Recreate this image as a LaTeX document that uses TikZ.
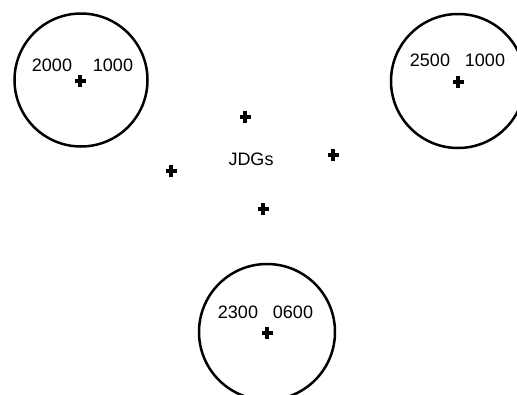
\documentclass[tikz,border=0pt]{standalone}
\usepackage{fontspec}
\setmainfont{Liberation Sans}
\begin{document}
\begin{tikzpicture}[x=1pt,y=-1pt,
  ring/.style={circle,draw=black,line width=2.5pt,minimum size=133pt,inner sep=0pt},
  lbl/.style={inner sep=0pt,font=\fontsize{18}{18}\selectfont},
  cross/.style={line width=3.2pt}]
\useasboundingbox (0,0) rectangle (517,394);
\newcommand{\xcross}[2]{\draw[cross] (#1-5.5,#2) -- (#1+5.5,#2) (#1,#2-6) -- (#1,#2+6);}
% circles
\node[ring] (c1) at (81,80) {};
\node[ring,minimum size=134pt] (c2) at (458,81) {};
\node[ring,minimum size=136pt] (c3) at (267,332) {};
% crosses at centres
\xcross{80}{81}
\xcross{458}{82}
\xcross{267}{333}
% labels
\node[lbl] (t1a) at (52,65) {2000};
\node[lbl] (t1b) at (113,65) {1000};
\node[lbl] (t2a) at (430,60) {2500};
\node[lbl] (t2b) at (485,60) {1000};
\node[lbl] (t3a) at (238,312) {2300};
\node[lbl] (t3b) at (293,312) {0600};
\node[lbl] (jdg) at (251,159) {JDGs};
% free crosses
\xcross{245}{117}
\xcross{333}{155}
\xcross{171}{171}
\xcross{263}{209}
\end{tikzpicture}
\end{document}
